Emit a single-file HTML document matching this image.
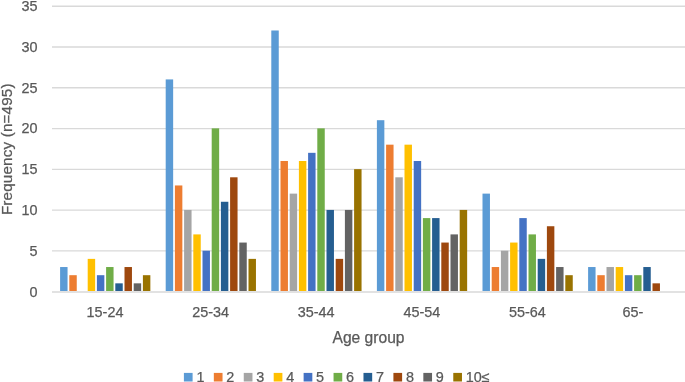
<!DOCTYPE html><html><head><meta charset="utf-8"><style>html,body{margin:0;padding:0;background:#fff;width:685px;height:382px;overflow:hidden}svg{display:block}text{font-family:"Liberation Sans",Arial,sans-serif;fill:#595959}</style></head><body>
<svg width="685" height="382" viewBox="0 0 685 382">
<line x1="52" x2="685" y1="250.91" y2="250.91" stroke="#D9D9D9" stroke-width="1.35"/>
<line x1="52" x2="685" y1="210.13" y2="210.13" stroke="#D9D9D9" stroke-width="1.35"/>
<line x1="52" x2="685" y1="169.34" y2="169.34" stroke="#D9D9D9" stroke-width="1.35"/>
<line x1="52" x2="685" y1="128.56" y2="128.56" stroke="#D9D9D9" stroke-width="1.35"/>
<line x1="52" x2="685" y1="87.77" y2="87.77" stroke="#D9D9D9" stroke-width="1.35"/>
<line x1="52" x2="685" y1="46.99" y2="46.99" stroke="#D9D9D9" stroke-width="1.35"/>
<line x1="52" x2="685" y1="6.20" y2="6.20" stroke="#D9D9D9" stroke-width="1.35"/>
<rect x="60.10" y="267.03" width="7.45" height="23.97" fill="#5B9BD5"/>
<rect x="69.30" y="275.19" width="7.45" height="15.81" fill="#ED7D31"/>
<rect x="87.70" y="258.87" width="7.45" height="32.13" fill="#FFC000"/>
<rect x="96.90" y="275.19" width="7.45" height="15.81" fill="#4472C4"/>
<rect x="106.10" y="267.03" width="7.45" height="23.97" fill="#70AD47"/>
<rect x="115.30" y="283.34" width="7.45" height="7.66" fill="#255E91"/>
<rect x="124.50" y="267.03" width="7.45" height="23.97" fill="#9E480E"/>
<rect x="133.70" y="283.34" width="7.45" height="7.66" fill="#636363"/>
<rect x="142.90" y="275.19" width="7.45" height="15.81" fill="#997300"/>
<rect x="165.70" y="79.42" width="7.45" height="211.58" fill="#5B9BD5"/>
<rect x="174.90" y="185.46" width="7.45" height="105.54" fill="#ED7D31"/>
<rect x="184.10" y="209.93" width="7.45" height="81.07" fill="#A5A5A5"/>
<rect x="193.30" y="234.40" width="7.45" height="56.60" fill="#FFC000"/>
<rect x="202.50" y="250.72" width="7.45" height="40.28" fill="#4472C4"/>
<rect x="211.70" y="128.36" width="7.45" height="162.64" fill="#70AD47"/>
<rect x="220.90" y="201.77" width="7.45" height="89.23" fill="#255E91"/>
<rect x="230.10" y="177.30" width="7.45" height="113.70" fill="#9E480E"/>
<rect x="239.30" y="242.56" width="7.45" height="48.44" fill="#636363"/>
<rect x="248.50" y="258.87" width="7.45" height="32.13" fill="#997300"/>
<rect x="271.30" y="30.48" width="7.45" height="260.52" fill="#5B9BD5"/>
<rect x="280.50" y="160.99" width="7.45" height="130.01" fill="#ED7D31"/>
<rect x="289.70" y="193.62" width="7.45" height="97.38" fill="#A5A5A5"/>
<rect x="298.90" y="160.99" width="7.45" height="130.01" fill="#FFC000"/>
<rect x="308.10" y="152.83" width="7.45" height="138.17" fill="#4472C4"/>
<rect x="317.30" y="128.36" width="7.45" height="162.64" fill="#70AD47"/>
<rect x="326.50" y="209.93" width="7.45" height="81.07" fill="#255E91"/>
<rect x="335.70" y="258.87" width="7.45" height="32.13" fill="#9E480E"/>
<rect x="344.90" y="209.93" width="7.45" height="81.07" fill="#636363"/>
<rect x="354.10" y="169.14" width="7.45" height="121.86" fill="#997300"/>
<rect x="376.90" y="120.20" width="7.45" height="170.80" fill="#5B9BD5"/>
<rect x="386.10" y="144.67" width="7.45" height="146.33" fill="#ED7D31"/>
<rect x="395.30" y="177.30" width="7.45" height="113.70" fill="#A5A5A5"/>
<rect x="404.50" y="144.67" width="7.45" height="146.33" fill="#FFC000"/>
<rect x="413.70" y="160.99" width="7.45" height="130.01" fill="#4472C4"/>
<rect x="422.90" y="218.09" width="7.45" height="72.91" fill="#70AD47"/>
<rect x="432.10" y="218.09" width="7.45" height="72.91" fill="#255E91"/>
<rect x="441.30" y="242.56" width="7.45" height="48.44" fill="#9E480E"/>
<rect x="450.50" y="234.40" width="7.45" height="56.60" fill="#636363"/>
<rect x="459.70" y="209.93" width="7.45" height="81.07" fill="#997300"/>
<rect x="482.50" y="193.62" width="7.45" height="97.38" fill="#5B9BD5"/>
<rect x="491.70" y="267.03" width="7.45" height="23.97" fill="#ED7D31"/>
<rect x="500.90" y="250.72" width="7.45" height="40.28" fill="#A5A5A5"/>
<rect x="510.10" y="242.56" width="7.45" height="48.44" fill="#FFC000"/>
<rect x="519.30" y="218.09" width="7.45" height="72.91" fill="#4472C4"/>
<rect x="528.50" y="234.40" width="7.45" height="56.60" fill="#70AD47"/>
<rect x="537.70" y="258.87" width="7.45" height="32.13" fill="#255E91"/>
<rect x="546.90" y="226.24" width="7.45" height="64.76" fill="#9E480E"/>
<rect x="556.10" y="267.03" width="7.45" height="23.97" fill="#636363"/>
<rect x="565.30" y="275.19" width="7.45" height="15.81" fill="#997300"/>
<rect x="588.10" y="267.03" width="7.45" height="23.97" fill="#5B9BD5"/>
<rect x="597.30" y="275.19" width="7.45" height="15.81" fill="#ED7D31"/>
<rect x="606.50" y="267.03" width="7.45" height="23.97" fill="#A5A5A5"/>
<rect x="615.70" y="267.03" width="7.45" height="23.97" fill="#FFC000"/>
<rect x="624.90" y="275.19" width="7.45" height="15.81" fill="#4472C4"/>
<rect x="634.10" y="275.19" width="7.45" height="15.81" fill="#70AD47"/>
<rect x="643.30" y="267.03" width="7.45" height="23.97" fill="#255E91"/>
<rect x="652.50" y="283.34" width="7.45" height="7.66" fill="#9E480E"/>
<line x1="52" x2="685" y1="292" y2="292" stroke="#D9D9D9" stroke-width="1.3"/>
<text x="37.6" y="296.50" text-anchor="end" font-size="14.4" stroke="#595959" stroke-width="0.25">0</text>
<text x="37.6" y="255.72" text-anchor="end" font-size="14.4" stroke="#595959" stroke-width="0.25">5</text>
<text x="37.6" y="214.93" text-anchor="end" font-size="14.4" stroke="#595959" stroke-width="0.25">10</text>
<text x="37.6" y="174.14" text-anchor="end" font-size="14.4" stroke="#595959" stroke-width="0.25">15</text>
<text x="37.6" y="133.36" text-anchor="end" font-size="14.4" stroke="#595959" stroke-width="0.25">20</text>
<text x="37.6" y="92.57" text-anchor="end" font-size="14.4" stroke="#595959" stroke-width="0.25">25</text>
<text x="37.6" y="51.79" text-anchor="end" font-size="14.4" stroke="#595959" stroke-width="0.25">30</text>
<text x="37.6" y="11.00" text-anchor="end" font-size="14.4" stroke="#595959" stroke-width="0.25">35</text>
<text x="105.00" y="316.6" text-anchor="middle" font-size="14.4" stroke="#595959" stroke-width="0.25">15-24</text>
<text x="210.60" y="316.6" text-anchor="middle" font-size="14.4" stroke="#595959" stroke-width="0.25">25-34</text>
<text x="316.20" y="316.6" text-anchor="middle" font-size="14.4" stroke="#595959" stroke-width="0.25">35-44</text>
<text x="421.80" y="316.6" text-anchor="middle" font-size="14.4" stroke="#595959" stroke-width="0.25">45-54</text>
<text x="527.40" y="316.6" text-anchor="middle" font-size="14.4" stroke="#595959" stroke-width="0.25">55-64</text>
<text x="633.00" y="316.6" text-anchor="middle" font-size="14.4" stroke="#595959" stroke-width="0.25">65-</text>
<text x="368.5" y="342.9" text-anchor="middle" font-size="15.6" stroke="#595959" stroke-width="0.25">Age group</text>
<text transform="translate(12.2,149.2) rotate(-90)" x="0" y="0" text-anchor="middle" font-size="15.2" letter-spacing="0.18" stroke="#595959" stroke-width="0.25">Frequency (n=495)</text>
<rect x="183.90" y="372.9" width="8.7" height="8.6" fill="#5B9BD5"/>
<text x="196.40" y="382.2" font-size="14.4" stroke="#595959" stroke-width="0.25">1</text>
<rect x="213.83" y="372.9" width="8.7" height="8.6" fill="#ED7D31"/>
<text x="226.33" y="382.2" font-size="14.4" stroke="#595959" stroke-width="0.25">2</text>
<rect x="243.76" y="372.9" width="8.7" height="8.6" fill="#A5A5A5"/>
<text x="256.26" y="382.2" font-size="14.4" stroke="#595959" stroke-width="0.25">3</text>
<rect x="273.69" y="372.9" width="8.7" height="8.6" fill="#FFC000"/>
<text x="286.19" y="382.2" font-size="14.4" stroke="#595959" stroke-width="0.25">4</text>
<rect x="303.62" y="372.9" width="8.7" height="8.6" fill="#4472C4"/>
<text x="316.12" y="382.2" font-size="14.4" stroke="#595959" stroke-width="0.25">5</text>
<rect x="333.55" y="372.9" width="8.7" height="8.6" fill="#70AD47"/>
<text x="346.05" y="382.2" font-size="14.4" stroke="#595959" stroke-width="0.25">6</text>
<rect x="363.48" y="372.9" width="8.7" height="8.6" fill="#255E91"/>
<text x="375.98" y="382.2" font-size="14.4" stroke="#595959" stroke-width="0.25">7</text>
<rect x="393.41" y="372.9" width="8.7" height="8.6" fill="#9E480E"/>
<text x="405.91" y="382.2" font-size="14.4" stroke="#595959" stroke-width="0.25">8</text>
<rect x="423.34" y="372.9" width="8.7" height="8.6" fill="#636363"/>
<text x="435.84" y="382.2" font-size="14.4" stroke="#595959" stroke-width="0.25">9</text>
<rect x="453.27" y="372.9" width="8.7" height="8.6" fill="#997300"/>
<text x="465.77" y="382.2" font-size="14.4" stroke="#595959" stroke-width="0.25">10≤</text>
</svg></body></html>
